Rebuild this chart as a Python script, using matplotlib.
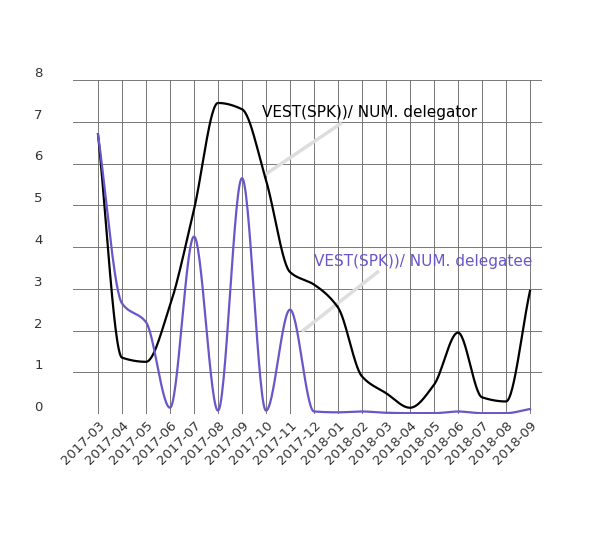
import matplotlib.pyplot as plt
import numpy as np

months = ['2017-03', '2017-04', '2017-05', '2017-06', '2017-07', '2017-08', '2017-09',
          '2017-10', '2017-11', '2017-12', '2018-01', '2018-02', '2018-03', '2018-04',
          '2018-05', '2018-06', '2018-07', '2018-08', '2018-09']
delegator = [6.7, 1.35, 1.25, 2.6, 4.9, 7.45, 7.3, 5.6, 3.4, 3.1, 2.55, 0.9, 0.5, 0.15,
             0.7, 1.95, 0.4, 0.3, 2.95]
delegatee = [6.7, 2.65, 2.2, 0.15, 4.25, 0.08, 5.65, 0.08, 2.5, 0.06, 0.04, 0.06, 0.03, 0.02,
             0.02, 0.06, 0.02, 0.02, 0.12]


def smooth(y, n=30):
    # monotone cubic (fritsch-carlson) through the points
    y = np.asarray(y, float)
    d = np.diff(y)
    m = np.zeros_like(y)
    m[0], m[-1] = d[0], d[-1]
    for i in range(1, len(y) - 1):
        if d[i - 1] * d[i] > 0:
            m[i] = 2 / (1 / d[i - 1] + 1 / d[i])
    xs, ys = [], []
    t = np.linspace(0, 1, n, endpoint=False)
    for i in range(len(y) - 1):
        h00 = 2 * t ** 3 - 3 * t ** 2 + 1
        h10 = t ** 3 - 2 * t ** 2 + t
        h01 = -2 * t ** 3 + 3 * t ** 2
        h11 = t ** 3 - t ** 2
        xs.append(i + t)
        ys.append(h00 * y[i] + h10 * m[i] + h01 * y[i + 1] + h11 * m[i + 1])
    xs.append([len(y) - 1])
    ys.append([y[-1]])
    return np.concatenate(xs), np.concatenate(ys)


fig = plt.figure(figsize=(6.02, 5.53), dpi=100)
ax = fig.add_axes([73 / 602, 1 - 414 / 553, (542 - 73) / 602, (414 - 80) / 553])

x = np.arange(len(months))
xb, yb = smooth(delegator)
xp, yp = smooth(delegatee)
ax.plot(xb, yb, color='black', lw=1.6, zorder=3)
ax.plot(xp, yp, color='#6a55c9', lw=1.6, zorder=3)

ax.set_xlim(-25 / 24, 18 + 12 / 24)
ax.set_ylim(0, 8)
ax.set_xticks(x)
ax.set_xticklabels(months, rotation=45, ha='right', rotation_mode='anchor')
ax.set_yticks(range(9))
ax.grid(True, color='#777777', lw=0.7)
ax.tick_params(length=0, labelsize=9.5, colors='#333333')
for lbl in ax.get_yticklabels():
    lbl.set_horizontalalignment('left')
    lbl.set_verticalalignment('bottom')
ax.tick_params(axis='y', pad=28)
for s in ax.spines.values():
    s.set_visible(False)
ax.axhline(0, color='#777777', lw=0.7)

# callout labels with gray leader lines
ax.plot([7.0, 10.1], [5.75, 6.95], color='#dddddd', lw=2.5, zorder=2)
ax.text(6.85, 7.12, 'VEST(SPK))/ NUM. delegator', fontsize=11, color='black')
ax.plot([8.55, 11.65], [2.0, 3.4], color='#dddddd', lw=2.5, zorder=2)
ax.text(9.0, 3.55, 'VEST(SPK))/ NUM. delegatee', fontsize=11, color='#6a55c9')

fig.savefig('out.png', dpi=100)
